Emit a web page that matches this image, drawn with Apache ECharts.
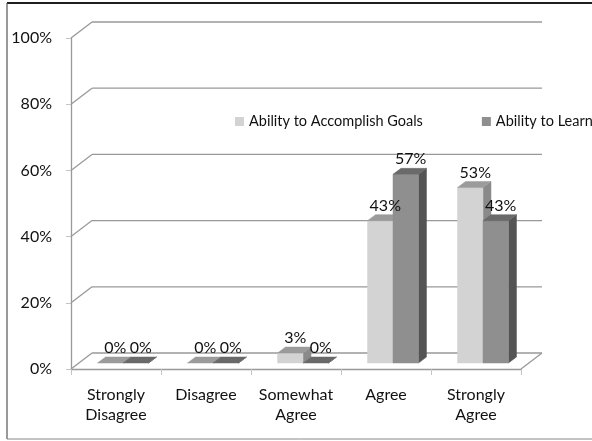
<!DOCTYPE html>
<html>
<head>
<meta charset="utf-8">
<script src="https://cdn.jsdelivr.net/npm/echarts@6/dist/echarts.min.js"></script>
<style>
  html, body { margin: 0; padding: 0; background: #fff; }
  #chart { width: 592px; height: 441px; }
</style>
</head>
<body>
<div id="chart"></div>
<script>
// Survey responses, share of respondents per answer
const categories = ['Strongly\nDisagree', 'Disagree', 'Somewhat\nAgree', 'Agree', 'Strongly\nAgree'];
const seriesNames = ['Ability to Accomplish Goals', 'Ability to Learn'];
const goals = [0, 0, 3, 43, 53];
const learn = [0, 0, 0, 57, 43];
const yTicks = [0, 20, 40, 60, 80, 100];

// Pseudo-3D projection: offsets of the back wall and of the bar faces
const WALL = [21, -16];
const BAR_FRONT = [7, -6];
const BAR_BACK = [15, -12];
const BAR_FRAC = 0.283;

const palette = [
  { front: '#d3d3d3', top: '#9b9b9b', side: '#8a8a8a' },
  { front: '#8f8f8f', top: '#6a6a6a', side: '#545454' }
];

const FONT = 'Lato, "Open Sans", sans-serif';
const GRID_COLOR = '#999999';
const TEXT_COLOR = '#111111';

function barGeom(api, side) {
  const cat = api.value(0);
  const top = api.coord([cat, api.value(1)]);
  const base = api.coord([cat, 0]);
  const w = api.size([1, 0])[0] * BAR_FRAC;
  const xL = top[0] + BAR_FRONT[0] + (side === 0 ? -w : 0);
  return { xL: xL, xR: xL + w, yT: top[1] + BAR_FRONT[1], yB: base[1] + BAR_FRONT[1], w: w };
}

function barRenderer(side) {
  const col = palette[side];
  const ddx = BAR_BACK[0] - BAR_FRONT[0];
  const ddy = BAR_BACK[1] - BAR_FRONT[1];
  return function (params, api) {
    const g = barGeom(api, side);
    const children = [];
    children.push({
      type: 'polygon',
      shape: { points: [[g.xR, g.yT], [g.xR + ddx, g.yT + ddy], [g.xR + ddx, g.yB + ddy], [g.xR, g.yB]] },
      style: { fill: col.side, stroke: col.side, lineWidth: 0.5 }
    });
    if (g.yB - g.yT > 0.5) {
      children.push({
        type: 'rect',
        shape: { x: g.xL, y: g.yT, width: g.w, height: g.yB - g.yT },
        style: { fill: col.front, stroke: col.front, lineWidth: 0.5 }
      });
    }
    children.push({
      type: 'polygon',
      shape: { points: [[g.xL, g.yT], [g.xR, g.yT], [g.xR + ddx, g.yT + ddy], [g.xL + ddx, g.yT + ddy]] },
      style: { fill: col.top, stroke: col.top, lineWidth: 0.5 }
    });
    return { type: 'group', children: children };
  };
}

// Back wall gridlines and the perspective connectors to the front axis
function wallRenderer(params, api) {
  const cs = params.coordSys;
  const p = api.coord([0, api.value(1)]);
  const x0 = cs.x, x1 = cs.x + cs.width, y = p[1];
  const style = { stroke: GRID_COLOR, lineWidth: 1.3 };
  const children = [
    { type: 'line', shape: { x1: x0, y1: y, x2: x0 + WALL[0], y2: y + WALL[1] }, style: style },
    { type: 'line', shape: { x1: x0 + WALL[0], y1: y + WALL[1], x2: x1 + WALL[0], y2: y + WALL[1] }, style: style }
  ];
  if (api.value(1) === 0) {
    children.push({ type: 'line', shape: { x1: x1, y1: y, x2: x1 + WALL[0], y2: y + WALL[1] }, style: style });
  }
  return { type: 'group', children: children };
}

function labelRenderer(params, api) {
  const side = api.value(2);
  const g = barGeom(api, side);
  return {
    type: 'text',
    style: {
      x: (g.xL + g.xR) / 2 + 5,
      y: api.coord([api.value(0), api.value(1)])[1] + BAR_BACK[1] - 1,
      text: api.value(1) + '%',
      font: '16px ' + FONT,
      fill: TEXT_COLOR,
      textAlign: 'center',
      textVerticalAlign: 'bottom'
    }
  };
}

const labelData = [];
[goals, learn].forEach(function (vals, s) {
  vals.forEach(function (v, i) { labelData.push([i, v, s]); });
});

const chart = echarts.init(document.getElementById('chart'), null, { renderer: 'canvas' });
chart.setOption({
  backgroundColor: '#ffffff',
  animation: false,
  textStyle: { fontFamily: FONT },
  grid: { left: 71, top: 38, width: 450, height: 331 },
  legend: {
    data: seriesNames,
    left: 235,
    top: 114,
    width: 600,
    padding: 0,
    itemGap: 59,
    itemWidth: 9,
    itemHeight: 9,
    icon: 'rect',
    selectedMode: false,
    textStyle: { fontFamily: FONT, fontSize: 14.5, color: TEXT_COLOR }
  },
  xAxis: {
    type: 'category',
    data: categories,
    boundaryGap: true,
    axisLine: { lineStyle: { color: GRID_COLOR, width: 1.3 } },
    axisTick: { show: true, interval: 0, length: 6, lineStyle: { color: '#c4c4c4' } },
    axisLabel: { interval: 0, fontSize: 16, lineHeight: 20, margin: 16, color: TEXT_COLOR, fontFamily: FONT },
    splitLine: { show: false }
  },
  yAxis: {
    type: 'value',
    min: 0,
    max: 100,
    interval: 20,
    axisLine: { show: true, lineStyle: { color: GRID_COLOR, width: 1.3 } },
    axisTick: { show: true, length: 5, lineStyle: { color: '#c4c4c4' } },
    axisLabel: { formatter: '{value}%', fontSize: 16, margin: 19, color: TEXT_COLOR, fontFamily: FONT },
    splitLine: { show: false }
  },
  graphic: [
    { type: 'line', shape: { x1: 7, y1: 3, x2: 592, y2: 3 }, style: { stroke: '#1e1e1e', lineWidth: 2 } },
    { type: 'line', shape: { x1: 7, y1: 3, x2: 7, y2: 439 }, style: { stroke: '#555', lineWidth: 1.2 } },
    { type: 'line', shape: { x1: 7, y1: 439, x2: 592, y2: 439 }, style: { stroke: '#888', lineWidth: 1 } }
  ],
  series: [
    {
      type: 'custom',
      name: 'wall',
      silent: true,
      z: 1,
      renderItem: wallRenderer,
      encode: { x: 0, y: 1 },
      data: yTicks.map(function (v) { return [0, v]; })
    },
    {
      type: 'custom',
      name: seriesNames[0],
      z: 3,
      itemStyle: { color: palette[0].front },
      renderItem: barRenderer(0),
      encode: { x: 0, y: 1 },
      data: goals.map(function (v, i) { return [i, v]; })
    },
    {
      type: 'custom',
      name: seriesNames[1],
      z: 4,
      itemStyle: { color: palette[1].front },
      renderItem: barRenderer(1),
      encode: { x: 0, y: 1 },
      data: learn.map(function (v, i) { return [i, v]; })
    },
    {
      type: 'custom',
      name: 'labels',
      silent: true,
      z: 6,
      renderItem: labelRenderer,
      encode: { x: 0, y: 1 },
      data: labelData
    }
  ]
});
</script>
</body>
</html>
